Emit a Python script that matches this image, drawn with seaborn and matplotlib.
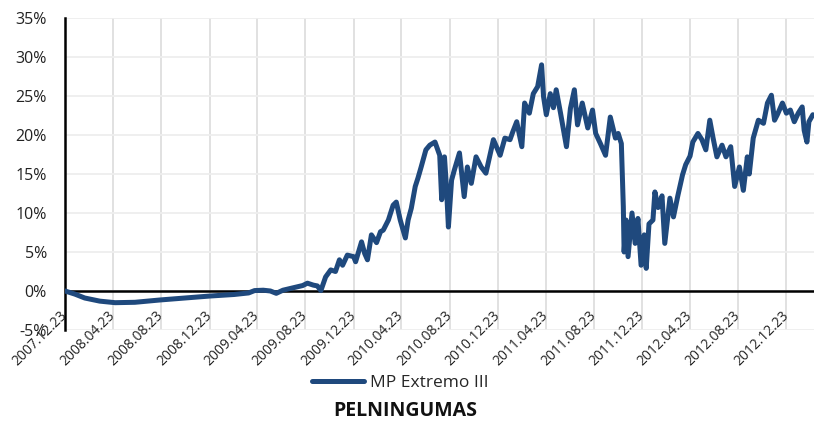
import pandas as pd
import numpy as np
import seaborn as sns
import matplotlib.pyplot as plt
import matplotlib.ticker as mticker


# series (percent)
dates = [
    "2007-12-23", "2008-01-17", "2008-02-11", "2008-03-20", "2008-04-28", "2008-06-17",
    "2008-08-20", "2008-10-22", "2008-12-23", "2009-02-23", "2009-04-01", "2009-04-16",
    "2009-05-08", "2009-05-26", "2009-06-10", "2009-06-27", "2009-07-22", "2009-08-16",
    "2009-08-28", "2009-09-12", "2009-09-22", "2009-10-01", "2009-10-13", "2009-10-26",
    "2009-11-07", "2009-11-17", "2009-11-25", "2009-12-07", "2009-12-23", "2009-12-28",
    "2010-01-12", "2010-01-20", "2010-01-27", "2010-02-06", "2010-02-19", "2010-03-01",
    "2010-03-08", "2010-03-21", "2010-04-02", "2010-04-10", "2010-04-20", "2010-05-03",
    "2010-05-10", "2010-05-18", "2010-05-28", "2010-06-04", "2010-06-12", "2010-06-24",
    "2010-07-04", "2010-07-17", "2010-07-29", "2010-08-03", "2010-08-10", "2010-08-15",
    "2010-08-20", "2010-08-28", "2010-09-04", "2010-09-17", "2010-09-29", "2010-10-07",
    "2010-10-17", "2010-10-29", "2010-11-11", "2010-11-23", "2010-12-12", "2010-12-29",
    "2011-01-10", "2011-01-23", "2011-01-30", "2011-02-09", "2011-02-22", "2011-03-01",
    "2011-03-13", "2011-03-23", "2011-04-03", "2011-04-13", "2011-04-18", "2011-04-25",
    "2011-05-05", "2011-05-13", "2011-05-20", "2011-05-31", "2011-06-15", "2011-06-25",
    "2011-07-05", "2011-07-13", "2011-07-25", "2011-08-08", "2011-08-20", "2011-08-28",
    "2011-09-09", "2011-09-22", "2011-10-04", "2011-10-17", "2011-10-24", "2011-11-01",
    "2011-11-06", "2011-11-08", "2011-11-13", "2011-11-18", "2011-11-28", "2011-12-06",
    "2011-12-13", "2011-12-21", "2011-12-29", "2012-01-03", "2012-01-10", "2012-01-20",
    "2012-01-25", "2012-02-02", "2012-02-12", "2012-02-19", "2012-03-03", "2012-03-12",
    "2012-03-23", "2012-04-04", "2012-04-12", "2012-04-23", "2012-04-30", "2012-05-13",
    "2012-05-23", "2012-06-02", "2012-06-12", "2012-06-20", "2012-06-30", "2012-07-13",
    "2012-07-23", "2012-08-04", "2012-08-14", "2012-08-26", "2012-09-05", "2012-09-15",
    "2012-09-20", "2012-09-30", "2012-10-13", "2012-10-26", "2012-11-05", "2012-11-15",
    "2012-11-23", "2012-11-30", "2012-12-13", "2012-12-23", "2013-01-02", "2013-01-12",
    "2013-01-22", "2013-02-01", "2013-02-06", "2013-02-13", "2013-02-18", "2013-02-28",
]
returns = [
    0.0, -0.4, -0.9, -1.3, -1.5, -1.45,
    -1.15, -0.9, -0.65, -0.45, -0.25, 0.05,
    0.1, 0.0, -0.3, 0.1, 0.4, 0.7,
    1.0, 0.75, 0.65, 0.05, 1.8, 2.7,
    2.5, 4.0, 3.3, 4.6, 4.4, 3.75,
    6.3, 4.8, 4.0, 7.2, 6.2, 7.6,
    7.8, 9.1, 11.0, 11.4, 9.1, 6.8,
    9.1, 10.6, 13.4, 14.5, 15.9, 18.1,
    18.7, 19.1, 17.4, 11.7, 17.2, 13.4,
    8.2, 14.2, 15.5, 17.7, 12.1, 15.9,
    13.8, 17.2, 15.9, 15.1, 19.4, 17.4,
    19.6, 19.4, 20.4, 21.7, 18.5, 24.1,
    22.8, 25.3, 26.2, 29.0, 24.9, 22.6,
    25.3, 23.5, 25.8, 22.8, 18.5, 23.4,
    25.8, 21.3, 24.1, 20.9, 23.2, 20.2,
    18.9, 17.4, 22.3, 19.6, 20.2, 18.9,
    10.8, 5.0, 9.1, 4.4, 10.0, 6.1,
    9.3, 3.3, 7.2, 2.9, 8.6, 9.1,
    12.7, 10.7, 12.2, 6.1, 11.9, 9.5,
    12.2, 14.9, 16.2, 17.3, 19.1, 20.2,
    19.4, 18.1, 21.9, 19.7, 17.2, 18.7,
    17.2, 18.5, 13.4, 15.9, 12.9, 17.2,
    15.0, 19.6, 21.9, 21.5, 24.1, 25.1,
    21.9, 22.6, 24.1, 22.8, 23.2, 21.7,
    22.8, 23.6, 20.6, 19.1, 21.7, 22.6,
]
series_name = "MP Extremo III"
chart_title = "PELNINGUMAS"
y_ticks = [-5, 0, 5, 10, 15, 20, 25, 30, 35]
x_tick_dates = pd.date_range("2007-12-23", periods=16, freq=pd.DateOffset(months=4))

df = pd.DataFrame({"date": pd.to_datetime(dates), "value": returns})

sns.set_style("white")
plt.rcParams["font.family"] = ["Open Sans", "DejaVu Sans"]

fig = plt.figure(figsize=(8.24, 4.23), dpi=100)
ax = fig.add_axes([0.0789, 0.2199, 0.909, 0.7375])

# grid
for d in x_tick_dates:
    ax.axvline(d, color="#dedede", lw=1.3, zorder=0)
for v in y_ticks:
    ax.axhline(v, color="#eeeeee", lw=1.3, zorder=0)
ax.axhline(0, color="black", lw=1.8, zorder=1)

sns.lineplot(data=df, x="date", y="value", color="#1F497D", lw=3.6,
             label=series_name, ax=ax, zorder=3, legend=False)

ax.set_xlim(pd.Timestamp("2007-12-23"), pd.Timestamp("2013-03-03"))
ax.set_ylim(-5, 35)
ax.set_yticks(y_ticks)
ax.yaxis.set_major_formatter(mticker.FuncFormatter(lambda v, p: f"{v:.0f}%"))
ax.set_xticks(x_tick_dates)
ax.set_xticklabels([d.strftime("%Y.%m.%d") for d in x_tick_dates],
                   rotation=45, ha="right", va="center", rotation_mode="anchor")
ax.tick_params(axis="y", labelsize=11.5, colors="#222222", length=0, pad=13)
ax.tick_params(axis="x", labelsize=10, colors="#222222", length=0, pad=-12)
ax.set_xlabel("")
ax.set_ylabel("")

for s in ["top", "right", "bottom"]:
    ax.spines[s].set_visible(False)
ax.spines["left"].set_color("black")
ax.spines["left"].set_linewidth(1.8)

handles = [plt.Line2D([], [], color="#1F497D", lw=3.6)]
fig.legend(handles, [series_name], loc="center", bbox_to_anchor=(0.486, 0.094),
           frameon=False, fontsize=12.5, handlelength=3.0, handletextpad=0.35)
fig.text(0.492, 0.028, chart_title, ha="center", va="center",
         fontsize=14, fontweight="bold", color="#111111")

fig.savefig("out.png", dpi=100)
